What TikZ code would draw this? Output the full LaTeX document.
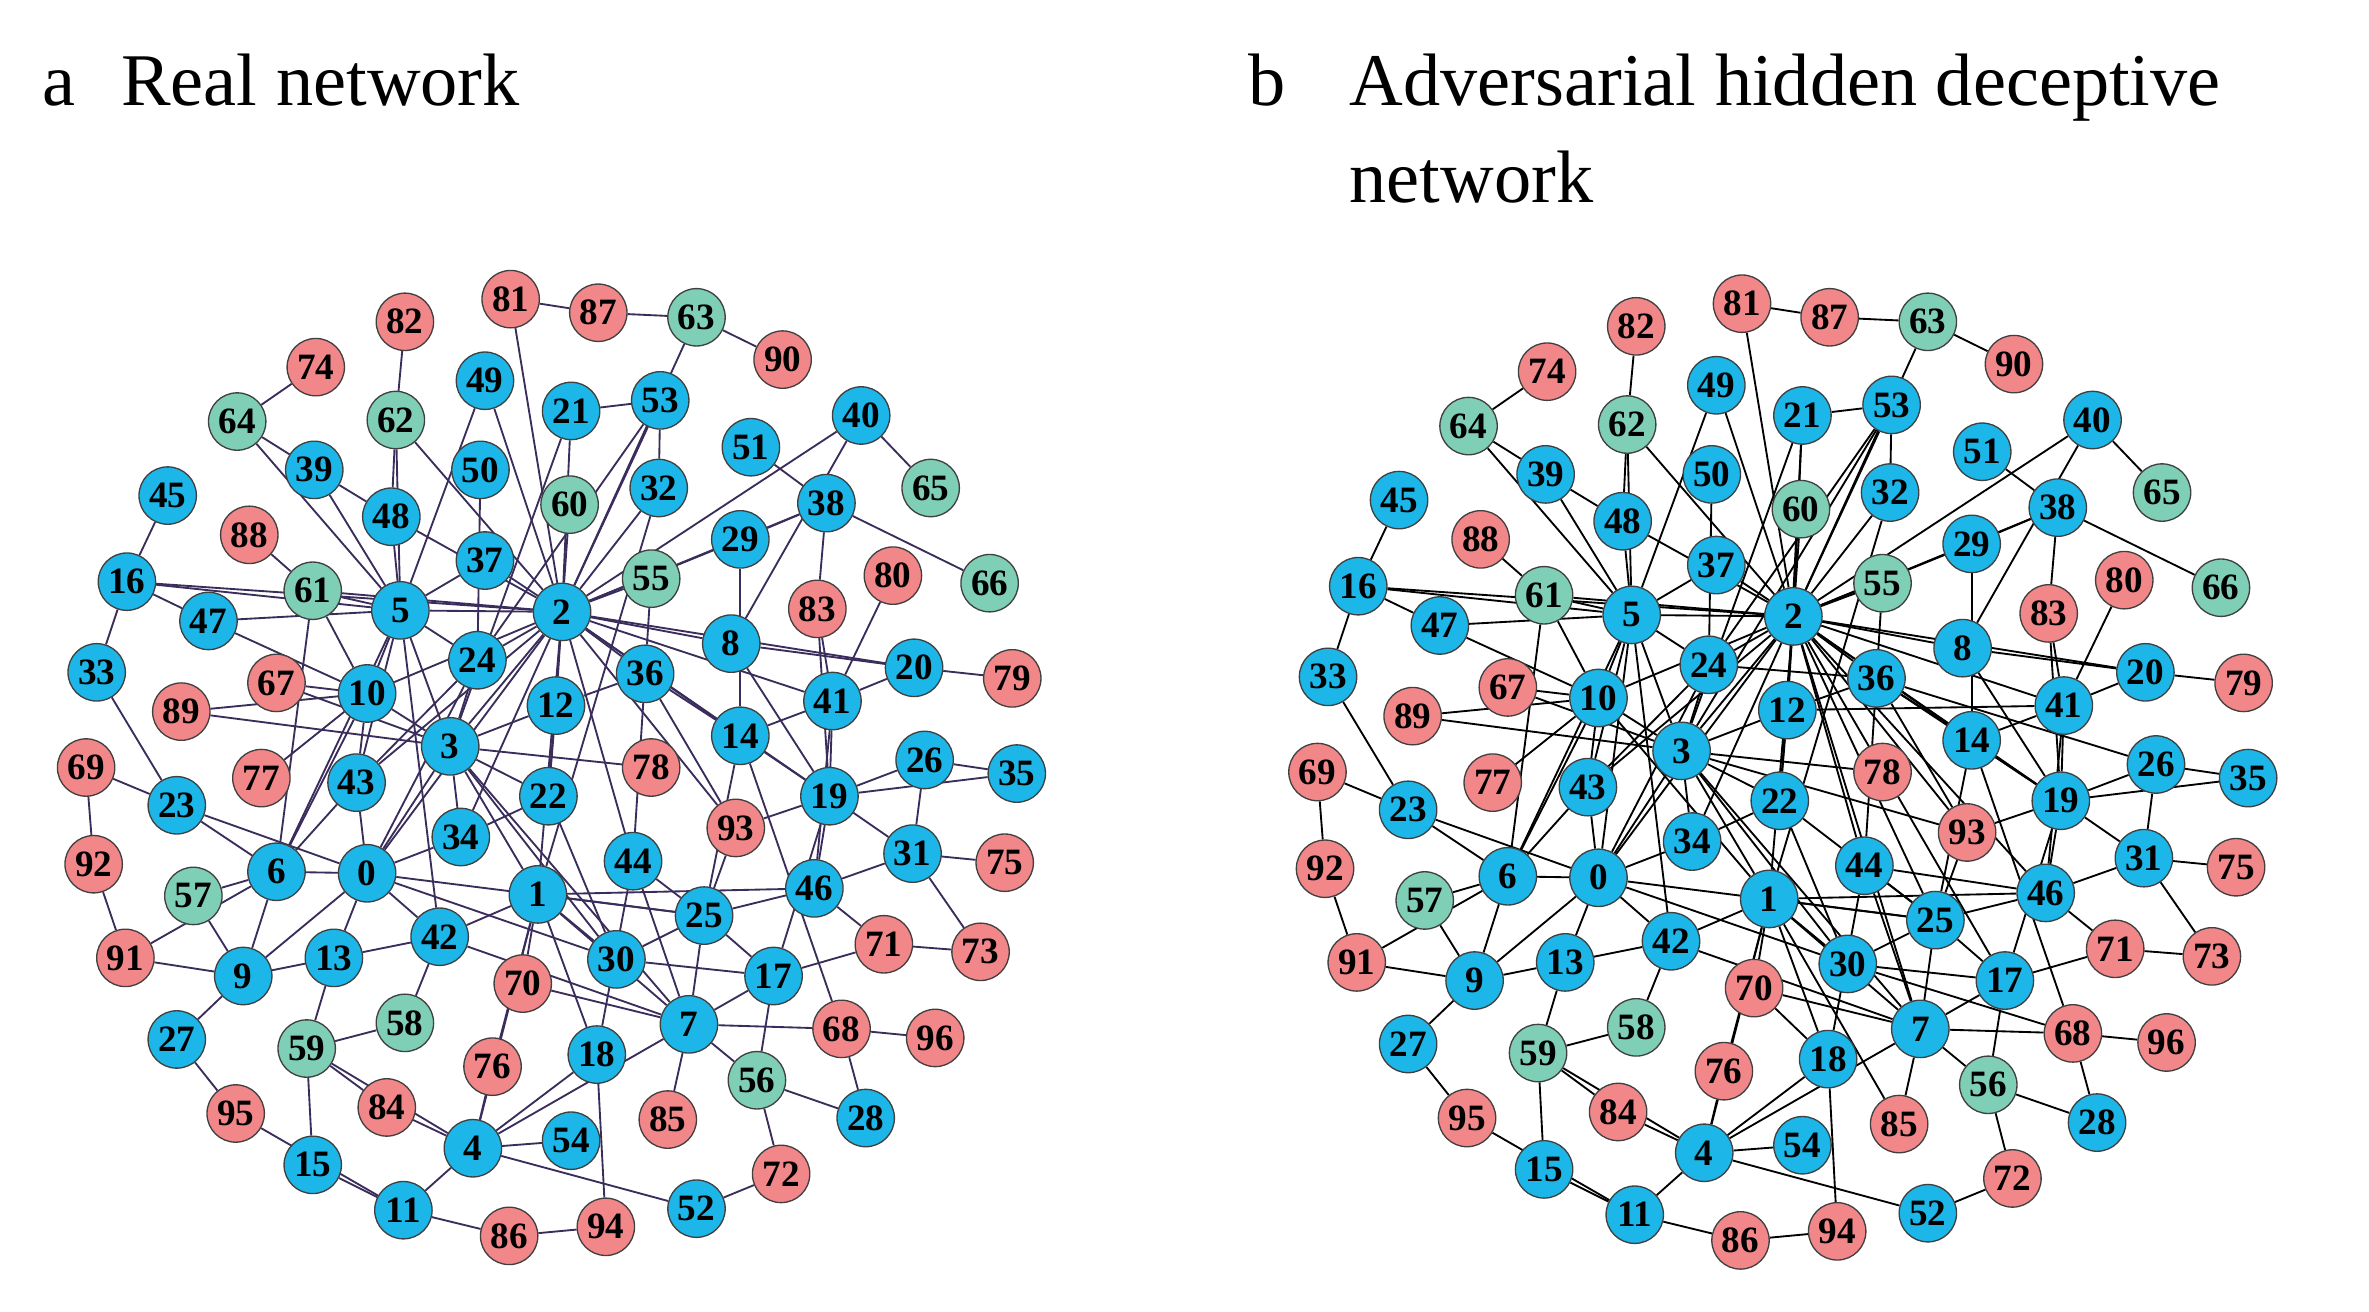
\documentclass[tikz,border=0pt]{standalone}
\usepackage{fontspec}
\setmainfont{Liberation Serif}
\usetikzlibrary{backgrounds}
\definecolor{nb}{HTML}{1CB6E8}
\definecolor{ng}{HTML}{7ECFB5}
\definecolor{nr}{HTML}{F2878A}
\definecolor{ea}{HTML}{3A2D5C}
\tikzset{nd/.style={circle,draw=black!75,line width=0.5pt,minimum size=0.76cm,inner sep=0pt,font=\fontsize{14}{14}\selectfont\bfseries},
 ttl/.style={font=\fontsize{28}{30}\selectfont,anchor=base west,inner sep=0pt}}
\newcommand\mynodes[3]{%
\begin{scope}[shift={(#2,#3)}]
\foreach \n/\x/\y in {0/243/578,1/356/592,2/372/405,3/298/494,4/313/760,5/265/404,6/183/577,7/456/678,8/484/426,9/161/646,10/243/459,11/267/801,12/368/467,13/221/634,14/490/487,15/207/771,16/84/385,17/512/646,18/395/698,19/549/527,20/605/442,21/378/272,22/363/527,23/117/533,24/316/437,25/466/606,26/612/503,27/117/688,28/573/740,29/490/357,30/408/635,31/604/565,32/436/323,33/64/445,34/305/554,35/673/512,36/427/446,37/321/371,38/547/333,39/208/311,40/570/275,41/551/464,42/291/620,43/236/518,44/419/570,45/111/328,46/539/588,47/138/411,48/259/342,49/321/252,50/318/311,51/497/296,52/461/800,53/437/265,54/378/755}
 \node[nd,fill=nb] (#1\n) at (\x,\y) {\n};
\foreach \n/\x/\y in {55/431/383,56/501/715,57/128/593,58/268/677,59/203/694,60/377/334,61/207/391,62/262/278,63/461/210,64/157/279,65/616/323,66/655/386}
 \node[nd,fill=ng] (#1\n) at (\x,\y) {\n};
\foreach \n/\x/\y in {67/183/452,68/557/681,69/57/508,70/346/651,71/585/625,72/517/777,73/649/630,74/209/243,75/665/571,76/326/706,77/173/515,78/431/508,79/670/449,80/591/381,81/338/198,82/268/213,83/541/403,84/256/733,85/442/741,86/337/818,87/396/207,88/165/354,89/120/471,90/518/238,91/83/634,92/62/572,93/487/548,94/401/812,95/156/737,96/619/687}
 \node[nd,fill=nr] (#1\n) at (\x,\y) {\n};
\end{scope}}
\newcommand\myedges[1]{%
\foreach \a/\b in {2/81,2/53,2/63,2/21,2/49,2/62,2/48,2/37,2/5,2/61,2/16,2/24,2/3,2/10,2/36,2/8,2/14,2/19,2/12,2/22,2/1,2/0,2/43,2/55,2/32,2/29,2/40,2/38,2/93,2/44,2/34,2/41,2/20,2/60,
5/16,5/39,5/48,5/61,5/10,5/3,5/24,5/6,5/43,5/62,5/64,5/42,5/47,5/37,5/49,
3/10,3/24,3/34,3/22,3/1,3/0,3/67,3/12,3/78,3/30,3/7,3/89,3/21,
6/23,6/57,6/9,6/0,6/91,6/43,6/10,6/61,
0/9,0/13,0/42,0/23,0/25,0/24,0/30,0/34,0/43,
1/42,1/70,1/4,1/18,1/7,1/25,1/76,1/30,1/46,
7/25,7/17,7/68,7/56,7/85,7/4,7/44,7/70,
4/11,4/52,4/54,4/18,4/84,4/76,4/59,
16/33,16/45,16/47,33/23,23/69,69/92,92/91,91/9,9/27,27/95,95/11,11/15,15/59,11/86,86/94,94/18,52/72,72/56,56/28,28/68,68/96,73/71,75/31,35/26,79/20,66/38,65/40,90/63,63/87,87/81,82/62,74/64,64/39,39/48,62/48,88/61,
19/41,19/46,19/26,19/31,19/83,19/8,19/14,19/17,19/93,19/35,
41/20,41/83,41/14,41/80,41/46,
25/44,25/30,25/17,25/46,25/93,25/14,
36/14,36/55,36/12,36/44,36/93,
53/32,53/21,53/24,51/38,38/29,38/83,40/8,29/14,
9/13,9/57,13/59,13/42,58/59,58/42,59/84,42/7,30/17,17/71,17/56,46/71,31/26,31/73,31/46,
10/67,10/43,10/47,10/89,24/43,12/22,22/34,77/10,61/10,50/24,32/1,8/20,44/18,22/30,14/68}
 \draw (#1\a) -- (#1\b);}
\begin{document}
\begin{tikzpicture}[x=0.02cm,y=-0.02cm]
\useasboundingbox (0,0) rectangle (1568,868);
\node[ttl] at (28,70) {a};
\node[ttl] at (80,70) {Real network};
\node[ttl] at (826,70) {b};
\node[ttl] at (893,70) {Adversarial hidden deceptive};
\node[ttl] at (893,134) {network};
\mynodes{a}{0}{0}
\mynodes{b}{815}{3}
\begin{scope}[on background layer]
\begin{scope}[draw=ea,line width=0.7pt]\myedges{a}\end{scope}
\begin{scope}[draw=black,line width=0.7pt]\myedges{b}
\foreach \a/\b in {36/19,24/36,2/46,2/25,2/17,12/41,10/1,5/0,36/26,22/25,44/46,53/3,21/12,1/85,30/68,18/70,2/7,3/93}
 \draw (b\a) -- (b\b);
\end{scope}
\end{scope}
\end{tikzpicture}
\end{document}
